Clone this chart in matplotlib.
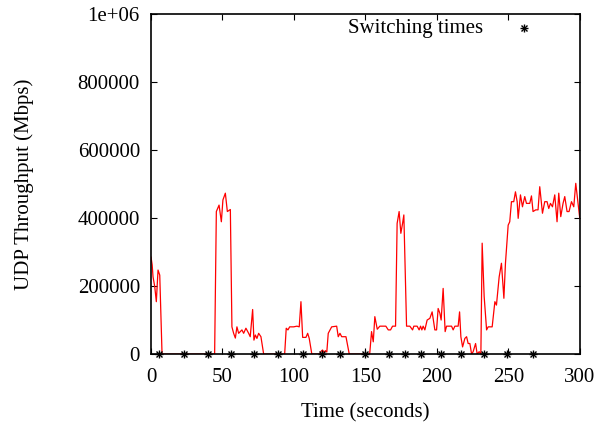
import matplotlib
matplotlib.use('Agg')
import matplotlib.pyplot as plt
import numpy as np

# throughput trace (time in s, value in Mbps)
time_s = [0, 0.8, 1.4, 2.6, 3.7, 4.9, 6.1, 7.7, 44.5, 45.7, 47.6, 49.2, 50.3,
          52, 53.4, 55.5, 56.6, 57.8, 59, 60.1, 61.3, 62.5, 63.6, 64.8, 66.4,
          68.3, 69.4, 71.1, 72, 73, 74.1, 75.3, 76.9, 78.8, 93.5, 94.6, 95.8,
          97, 99.8, 102.1, 103.7, 104.9, 106.1, 108.4, 109.6, 110.7, 112.5,
          118, 119, 120, 121, 122, 123, 124, 126.4, 129.9, 131, 132.2, 133.4,
          136.4, 138.7, 153, 154.3, 155.5, 156.6, 158.3, 160.1, 164.3, 166,
          167.6, 169, 171.1, 172.2, 173.6, 174.8, 176, 176.9, 178.8, 181.1,
          183, 183.9, 186.2, 187.6, 188.6, 189.5, 190.4, 191.6, 193.2, 195.1,
          196.7, 198.6, 199.8, 200.9, 202.1, 203, 204.4, 205.8, 206.8, 210.3,
          211.4, 212.6, 214.9, 215.9, 216.8, 218, 219.6, 220.8, 221.9, 223.1,
          224.3, 225.4, 227.1, 228.2, 229.6, 230.8, 231.7, 233.1, 234.8, 235.9,
          238.7, 240.6, 241.7, 243.6, 245.2, 246.9, 248, 249.9, 251, 252.2,
          253.8, 255, 256.2, 256.9, 258.5, 259.9, 261.5, 262.7, 265, 266.2,
          267.3, 269.2, 270.8, 272, 273.9, 275.5, 277.1, 278.3, 279.5, 280.9,
          282.5, 284.1, 285.3, 286.7, 288.3, 289.5, 291.1, 292.5, 294.2, 295.8,
          297.2, 298.8, 300]
throughput = [285000, 262000, 227000, 198000, 154000, 247000, 232000, 0, 0,
              419000, 438000, 389000, 453000, 473000, 419000, 425000, 80000,
              61000, 47000, 80000, 61000, 66000, 71000, 61000, 76000, 61000,
              51000, 131000, 41000, 56000, 46000, 61000, 51000, 0, 0, 76000,
              71000, 80000, 80000, 82000, 80000, 154000, 49000, 49000, 61000,
              46000, 0, 0, 8000, 12000, 5000, 10000, 6000, 61000, 80000, 82000,
              51000, 61000, 51000, 51000, 0, 0, 66000, 36000, 110000, 73000,
              82000, 82000, 71000, 71000, 82000, 82000, 384000, 419000, 355000,
              384000, 409000, 82000, 82000, 71000, 82000, 82000, 71000, 82000,
              71000, 82000, 71000, 100000, 105000, 124000, 71000, 71000, 134000,
              120000, 100000, 193000, 66000, 82000, 82000, 71000, 82000, 82000,
              124000, 51000, 21000, 46000, 51000, 31000, 31000, 0, 7000, 31000,
              0, 7000, 0, 326000, 169000, 71000, 80000, 80000, 154000, 144000,
              227000, 267000, 164000, 267000, 379000, 389000, 448000, 448000,
              477000, 448000, 399000, 468000, 433000, 463000, 443000, 443000,
              465000, 419000, 424000, 424000, 492000, 414000, 448000, 448000,
              428000, 443000, 433000, 468000, 389000, 473000, 404000, 443000,
              463000, 419000, 419000, 448000, 433000, 502000, 443000, 399000]

switch_times = [5.8, 22.9, 40.1, 55.7, 72.2, 89.0, 106.3, 119.6, 132.4, 149.7,
                166.2, 177.6, 188.8, 202.8, 216.8, 232.9, 249.0, 267.1]

x_ticks = [0, 50, 100, 150, 200, 250, 300]
y_ticks = [0, 200000, 400000, 600000, 800000, 1000000]
y_ticklabels = ['0', '200000', '400000', '600000', '800000', '1e+06']

plt.rcParams['font.family'] = ['Liberation Serif', 'DejaVu Serif']

fig = plt.figure(figsize=(6.09, 4.22), dpi=100)
ax = fig.add_axes([0.248, 0.161, 0.704, 0.806])

ax.plot(time_s, throughput, color='red', lw=0.9)

sw = np.array(switch_times)
ax.plot(sw, np.zeros_like(sw), ls='none', marker='+', color='black',
        ms=6, mew=1.0, clip_on=False, zorder=5)
ax.plot(sw, np.zeros_like(sw), ls='none', marker='x', color='black',
        ms=4.5, mew=1.0, clip_on=False, zorder=5)

ax.set_xlim(0, 300)
ax.set_ylim(0, 1000000)
ax.set_xticks(x_ticks)
ax.set_yticks(y_ticks)
ax.set_yticklabels(y_ticklabels)
ax.tick_params(direction='in', top=True, right=True, length=4, width=0.8,
               labelsize=15, pad=8)
ax.tick_params(axis='x', pad=10)
for s in ax.spines.values():
    s.set_linewidth(1.2)

ax.set_xlabel('Time (seconds)', fontsize=15, labelpad=12)
ax.set_ylabel('UDP Throughput (Mbps)', fontsize=15, labelpad=31)

# key in the upper right, text first then sample
ax.text(0.775, 0.958, 'Switching times', transform=ax.transAxes, fontsize=15,
        ha='right', va='center')
ax.plot([0.87], [0.958], transform=ax.transAxes, marker='+', color='black',
        ms=6, mew=1.0, ls='none')
ax.plot([0.87], [0.958], transform=ax.transAxes, marker='x', color='black',
        ms=4.5, mew=1.0, ls='none')

fig.savefig('out.png', dpi=100)
